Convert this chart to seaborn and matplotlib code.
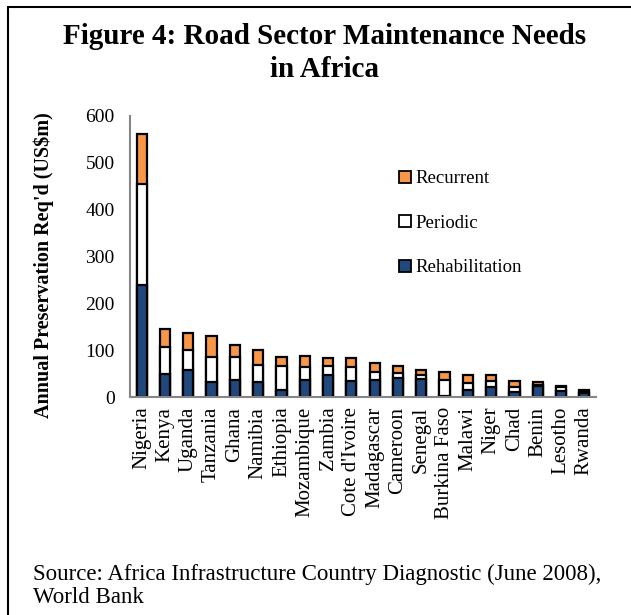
import matplotlib
matplotlib.use("Agg")
import matplotlib.pyplot as plt
from matplotlib.lines import Line2D
import seaborn as sns
import pandas as pd
import numpy as np

countries = ["Nigeria", "Kenya", "Uganda", "Tanzania", "Ghana", "Namibia", "Ethiopia",
             "Mozambique", "Zambia", "Cote d'Ivoire", "Madagascar", "Cameroon", "Senegal",
             "Burkina Faso", "Malawi", "Niger", "Chad", "Benin", "Lesotho", "Rwanda"]
rehabilitation = [239, 50, 58, 31, 36, 32, 16, 37, 48, 34, 37, 41, 39, 2, 16, 21, 10, 23, 12, 8]
periodic = [215, 57, 42, 55, 50, 36, 50, 27, 18, 30, 16, 11, 7, 34, 14, 13, 11, 3, 9, 2]
recurrent = [108, 39, 37, 44, 26, 32, 20, 23, 18, 19, 19, 15, 12, 17, 17, 13, 13, 5, 3, 4]
y_ticks = [0, 100, 200, 300, 400, 500, 600]

df = pd.DataFrame({"country": countries, "Rehabilitation": rehabilitation,
                   "Periodic": periodic, "Recurrent": recurrent})
df["lvl2"] = df["Rehabilitation"] + df["Periodic"]
df["lvl3"] = df["lvl2"] + df["Recurrent"]

sns.set_style("white")
plt.rcParams["font.family"] = ["Liberation Serif", "DejaVu Serif"]
plt.rcParams["text.color"] = "black"
plt.rcParams["xtick.labelcolor"] = "black"
plt.rcParams["ytick.labelcolor"] = "black"

ORANGE = "#F79646"
BLUE = "#1F497D"
GRAY = "#868686"

fig = plt.figure(figsize=(6.31, 6.15), dpi=100)
W, H = 631, 615
ax = fig.add_axes([130 / W, 1 - 397 / H, (596 - 130) / W, (397 - 116) / H])

kw = dict(ax=ax, x="country", width=0.44, edgecolor="black", linewidth=1.6, order=countries)
sns.barplot(data=df, y="lvl3", color=ORANGE, saturation=1, **kw)
sns.barplot(data=df, y="lvl2", color="white", saturation=1, **kw)
sns.barplot(data=df, y="Rehabilitation", color=BLUE, saturation=1, **kw)

ax.set_ylim(0, 600)
ax.set_xlim(-0.5, len(countries) - 0.5)
ax.set_yticks(y_ticks)
ax.set_yticklabels([str(v) for v in y_ticks], fontsize=14, color="black")
ax.set_xticks(np.arange(len(countries)))
ax.set_xticklabels(countries, rotation=90, fontsize=15, color="black")
ax.set_xticks(np.arange(len(countries) + 1) - 0.5, minor=True)
ax.tick_params(axis="x", which="major", length=0, pad=7)
ax.tick_params(axis="x", which="minor", length=5, color=GRAY, width=1.2, direction="out")
ax.tick_params(axis="y", length=5, color=GRAY, width=1.2, direction="out", pad=6)
ax.set_xlabel("")
ax.set_ylabel("")
for s in ["top", "right"]:
    ax.spines[s].set_visible(False)
for s in ["left", "bottom"]:
    ax.spines[s].set_color(GRAY)
    ax.spines[s].set_linewidth(1.5)

fig.text(44 / W, 1 - 265 / H, "Annual Preservation Req'd (US$m)", rotation=90,
         ha="center", va="center", fontsize=14.5, fontweight="bold", color="black")

fig.text(325 / W, 1 - 53 / H, "Figure 4: Road Sector Maintenance Needs\nin Africa",
         ha="center", va="center", fontsize=21, fontweight="bold", linespacing=1.3,
         color="black")

handles = [Line2D([], [], marker="s", linestyle="none", markersize=9, markerfacecolor=c,
                  markeredgecolor="black", markeredgewidth=1.3)
           for c in [ORANGE, "white", BLUE]]
leg = ax.legend(handles, ["Recurrent", "Periodic", "Rehabilitation"], loc="upper left",
                bbox_to_anchor=(386 / W, 1 - 161 / H), bbox_transform=fig.transFigure,
                frameon=False, fontsize=13.5, labelspacing=1.45, handletextpad=0.05,
                handlelength=1.0, borderpad=0)
for t in leg.get_texts():
    t.set_color("black")

fig.text(33 / W, 1 - 586 / H,
         "Source: Africa Infrastructure Country Diagnostic (June 2008),\nWorld Bank",
         ha="left", va="center", fontsize=16.5, linespacing=1.15, color="black")

# outer frame (left and top edges visible)
fig.add_artist(Line2D([8 / W, 8 / W], [0, 1 - 7 / H], transform=fig.transFigure,
                      color="black", linewidth=1.5))
fig.add_artist(Line2D([8 / W, 1.0], [1 - 7 / H, 1 - 7 / H], transform=fig.transFigure,
                      color="black", linewidth=1.5))

fig.savefig("out.png", dpi=100)
